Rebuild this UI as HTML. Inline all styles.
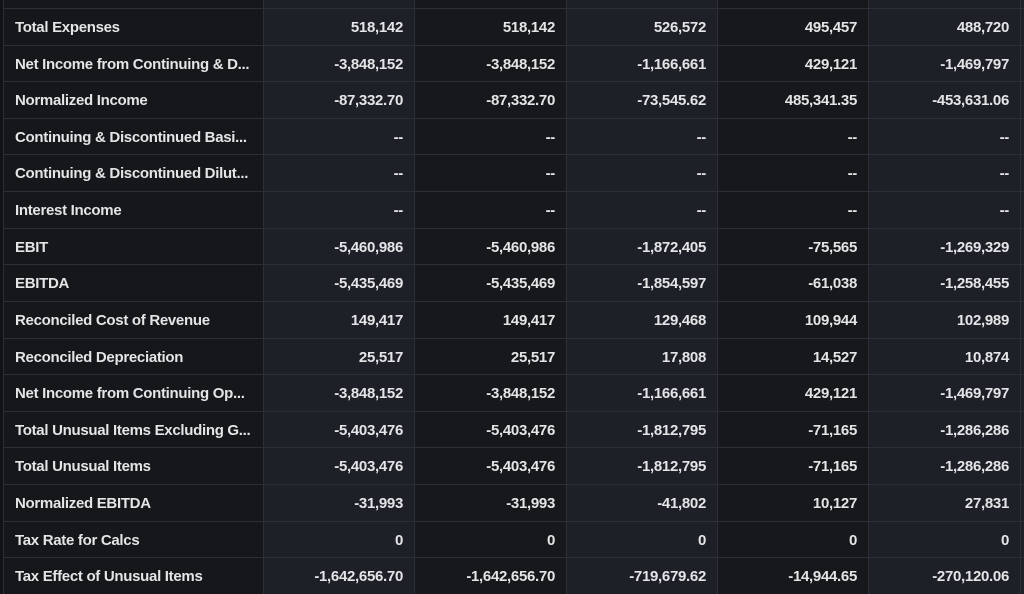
<!DOCTYPE html>
<html><head><meta charset="utf-8"><style>
html,body{margin:0;padding:0;width:1024px;height:594px;overflow:hidden;background:#121317;}
body{position:relative;font-family:"Liberation Sans",sans-serif;font-weight:bold;font-size:15px;letter-spacing:-0.3px;color:#e4e5e7;}
.col{position:absolute;top:0;height:594px;}
.hl{position:absolute;left:3px;width:1021px;height:1px;background:#2c2f35;}
.vl{position:absolute;top:0;width:1px;height:594px;background:#2c2f35;}
.t{position:absolute;height:36px;line-height:36px;white-space:nowrap;}
</style></head><body>
<div class="col" style="left:3px;width:260px;background:#15171b"></div>
<div class="col" style="left:263px;width:152px;background:#1d2027"></div>
<div class="col" style="left:415px;width:151px;background:#16181c"></div>
<div class="col" style="left:566px;width:151px;background:#1d2027"></div>
<div class="col" style="left:717px;width:151px;background:#16181c"></div>
<div class="col" style="left:868px;width:156px;background:#1d2027"></div>
<div class="vl" style="left:3px"></div><div class="vl" style="left:263px"></div><div class="vl" style="left:414px"></div><div class="vl" style="left:566px"></div><div class="vl" style="left:717px"></div><div class="vl" style="left:868px"></div><div class="vl" style="left:1020px"></div>
<div id="rows"></div>
<script>
var d=[
["Total Expenses","518,142","518,142","526,572","495,457","488,720"],
["Net Income from Continuing &amp; D...","-3,848,152","-3,848,152","-1,166,661","429,121","-1,469,797"],
["Normalized Income","-87,332.70","-87,332.70","-73,545.62","485,341.35","-453,631.06"],
["Continuing &amp; Discontinued Basi...","--","--","--","--","--"],
["Continuing &amp; Discontinued Dilut...","--","--","--","--","--"],
["Interest Income","--","--","--","--","--"],
["EBIT","-5,460,986","-5,460,986","-1,872,405","-75,565","-1,269,329"],
["EBITDA","-5,435,469","-5,435,469","-1,854,597","-61,038","-1,258,455"],
["Reconciled Cost of Revenue","149,417","149,417","129,468","109,944","102,989"],
["Reconciled Depreciation","25,517","25,517","17,808","14,527","10,874"],
["Net Income from Continuing Op...","-3,848,152","-3,848,152","-1,166,661","429,121","-1,469,797"],
["Total Unusual Items Excluding G...","-5,403,476","-5,403,476","-1,812,795","-71,165","-1,286,286"],
["Total Unusual Items","-5,403,476","-5,403,476","-1,812,795","-71,165","-1,286,286"],
["Normalized EBITDA","-31,993","-31,993","-41,802","10,127","27,831"],
["Tax Rate for Calcs","0","0","0","0","0"],
["Tax Effect of Unusual Items","-1,642,656.70","-1,642,656.70","-719,679.62","-14,944.65","-270,120.06"]];
var rights=[403,555,706,857,1009];var h="";
for(var i=0;i<d.length;i++){var y=8+i*36.62;
h+='<div class="hl" style="top:'+Math.round(y)+'px"></div>';
var ty=Math.round(y)+2;
h+='<div class="t" style="left:15px;top:'+ty+'px">'+d[i][0]+'</div>';
for(var j=0;j<5;j++)h+='<div class="t" style="right:'+(1024-rights[j])+'px;top:'+ty+'px">'+d[i][j+1]+'</div>';}
document.getElementById("rows").innerHTML=h;
</script>
</body></html>
